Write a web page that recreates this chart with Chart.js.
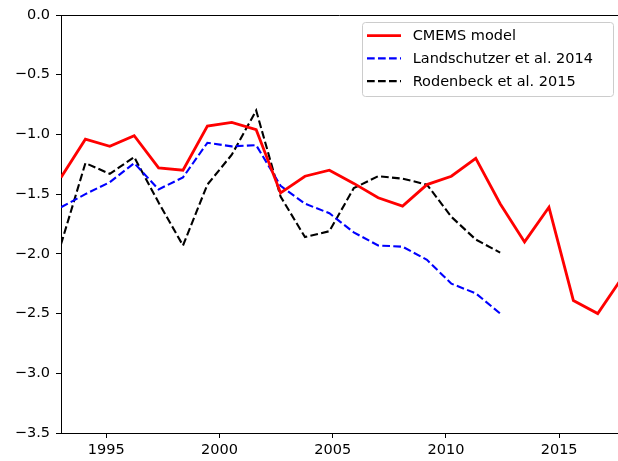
<!DOCTYPE html>
<html>
<head>
<meta charset="utf-8">
<script src="https://cdn.jsdelivr.net/npm/chart.js@4"></script>
<style>
  html, body { margin: 0; padding: 0; background: #fff; }
  #wrap { width: 618px; height: 461px; }
</style>
</head>
<body>
<div id="wrap"><canvas id="fluxChart" width="618" height="461"></canvas></div>
<script>
// ============================
// DATA
// ============================
const years = [1993, 1994, 1995, 1996, 1997, 1998, 1999, 2000, 2001, 2002, 2003, 2004,
               2005, 2006, 2007, 2008, 2009, 2010, 2011, 2012, 2013, 2014, 2015, 2016];
const cmems = [-1.36, -1.04, -1.10, -1.01, -1.28, -1.30, -0.93, -0.90, -0.96, -1.49, -1.35, -1.30,
               -1.41, -1.53, -1.60, -1.42, -1.35, -1.20, -1.58, -1.90, -1.61, -2.39, -2.50, -2.20];
const landschutzer = [-1.61, -1.50, -1.40, -1.24, -1.46, -1.36, -1.07, -1.10, -1.09, -1.43,
                      -1.58, -1.66, -1.82, -1.93, -1.94, -2.05, -2.25, -2.33, -2.50];
const rodenbeck = [-1.92, -1.24, -1.33, -1.19, -1.57, -1.93, -1.42, -1.17, -0.80, -1.52,
                   -1.86, -1.81, -1.45, -1.35, -1.37, -1.42, -1.69, -1.88, -1.99];
const yearTicks = [1995, 2000, 2005, 2010, 2015];
const valueTicks = [0.0, -0.5, -1.0, -1.5, -2.0, -2.5, -3.0, -3.5];

const FONT = "DejaVu Sans";
const toPoints = vals => vals.map((v, i) => ({ x: years[i], y: v }));

// top spine (right side is cut off in the reference)
const topSpine = {
    id: "topSpine",
    afterDraw(chart) {
        const { ctx, chartArea } = chart;
        ctx.save();
        ctx.strokeStyle = "#000";
        ctx.lineWidth = 1;
        ctx.beginPath();
        ctx.moveTo(chartArea.left, chartArea.top + 0.5);
        ctx.lineTo(chartArea.right, chartArea.top + 0.5);
        ctx.stroke();
        ctx.restore();
    }
};

// matplotlib-style legend box in the upper right
const boxLegend = {
    id: "boxLegend",
    afterDraw(chart) {
        const { ctx, chartArea } = chart;
        const x0 = chartArea.right - 256, y0 = chartArea.top + 7;
        ctx.save();
        ctx.beginPath();
        ctx.roundRect(x0 + 0.5, y0 + 0.5, 251, 74, 3);
        ctx.fillStyle = "rgba(255,255,255,0.8)";
        ctx.fill();
        ctx.strokeStyle = "#cccccc";
        ctx.lineWidth = 1;
        ctx.stroke();
        ctx.font = "14.5px '" + FONT + "'";
        ctx.textBaseline = "middle";
        chart.data.datasets.forEach((ds, i) => {
            const cy = y0 + 13.7 + i * 22.7;
            ctx.beginPath();
            ctx.setLineDash(ds.borderDash || []);
            ctx.strokeStyle = ds.borderColor;
            ctx.lineWidth = ds.borderWidth;
            ctx.moveTo(x0 + 5, cy);
            ctx.lineTo(x0 + 39, cy);
            ctx.stroke();
            ctx.setLineDash([]);
            ctx.fillStyle = "#000";
            ctx.fillText(ds.label, x0 + 50.7, cy + 1);
        });
        ctx.restore();
    }
};

const ctx = document.getElementById("fluxChart").getContext("2d");
new Chart(ctx, {
    type: "line",
    data: {
        datasets: [{
            label: "CMEMS model",
            data: toPoints(cmems),
            borderColor: "#ff0000",
            borderWidth: 2.8,
            xAxisID: "x",
            yAxisID: "y"
        }, {
            label: "Landschutzer et al. 2014",
            data: toPoints(landschutzer),
            borderColor: "#0000ff",
            borderWidth: 2.1,
            borderDash: [7.7, 3.3],
            xAxisID: "x",
            yAxisID: "y"
        }, {
            label: "Rodenbeck et al. 2015",
            data: toPoints(rodenbeck),
            borderColor: "#000000",
            borderWidth: 2.1,
            borderDash: [7.7, 3.3],
            xAxisID: "x",
            yAxisID: "y"
        }]
    },
    options: {
        responsive: false,
        animation: false,
        layout: { padding: { top: 15, right: 0, bottom: 0, left: 0 } },
        elements: { point: { radius: 0 }, line: { tension: 0 } },
        scales: {
            // data axis (hidden): points sit slightly wider apart than the tick labels
            x: {
                type: "linear",
                display: false,
                min: 1993,
                max: 2015.83
            },
            // visible year axis
            x2: {
                type: "linear",
                position: "bottom",
                min: 1993,
                max: 2017.6,
                afterBuildTicks: s => { s.ticks = yearTicks.map(v => ({ value: v })); },
                afterFit: s => { s.height = 28; },
                grid: { drawOnChartArea: false, tickLength: 5, tickColor: "#000" },
                border: { display: true, color: "#000", width: 1 },
                ticks: {
                    color: "#000",
                    padding: 4,
                    maxRotation: 0,
                    font: { family: FONT, size: 14.5 },
                    callback: v => String(v)
                }
            },
            y: {
                type: "linear",
                min: -3.5,
                max: 0,
                afterBuildTicks: s => { s.ticks = valueTicks.map(v => ({ value: v })); },
                afterFit: s => { s.width = 61; },
                grid: { drawOnChartArea: false, tickLength: 5, tickColor: "#000" },
                border: { display: true, color: "#000", width: 1 },
                ticks: {
                    color: "#000",
                    padding: 6,
                    font: { family: FONT, size: 14.5 },
                    callback: v => v.toFixed(1).replace("-", "\u2212")
                }
            }
        },
        plugins: {
            legend: { display: false },
            tooltip: { enabled: false }
        }
    },
    plugins: [topSpine, boxLegend]
});
</script>
</body>
</html>
